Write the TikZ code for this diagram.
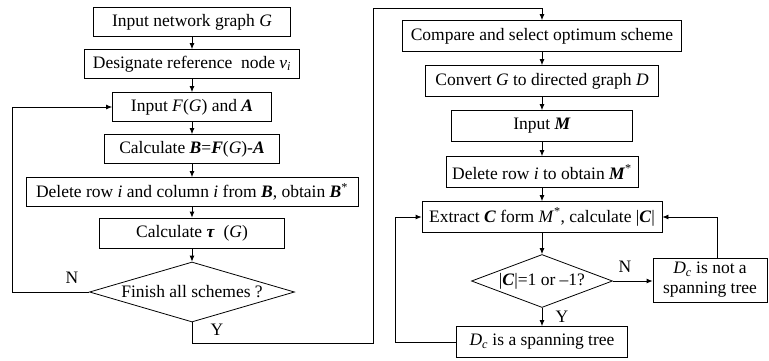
\documentclass[tikz,border=0pt]{standalone}
\usepackage{fontspec}
\setmainfont{Liberation Serif}
\usetikzlibrary{shapes.geometric,arrows.meta}

\begin{document}
\begin{tikzpicture}[x=1pt, y=-1pt,
  box/.style={draw, line width=0.8pt, minimum height=29pt, inner sep=0pt, align=center, font=\fontsize{17.5}{20}\selectfont},
  decision/.style={draw, diamond, line width=0.8pt, inner sep=0pt, aspect=#1, font=\fontsize{17.5}{20}\selectfont},
  arrow/.style={-{Latex[length=6pt,width=5pt]}, line width=0.8pt},
  lbl/.style={font=\fontsize{17.5}{20}\selectfont}
]
  \useasboundingbox (0,0) rectangle (769,360);

  \node[box, minimum width=197pt] (input) at (192,22) {Input network graph \textit{G}};
  \node[box, minimum width=215pt] (refnode) at (192,64) {Designate reference\ \ node \textit{v}\textsubscript{\textit{i}}};
  \node[box, minimum width=159pt] (inputFA) at (192,107) {Input \textit{F}(\textit{G}) and \textbf{\textit{A}}};
  \node[box, minimum width=175pt] (calcB) at (192,149) {Calculate \textbf{\textit{B}}=\textbf{\textit{F}}(\textit{G})-\textbf{\textit{A}}};
  \node[box, minimum width=332pt] (delB) at (192,192) {Delete row \textit{i} and column \textit{i} from \textbf{\textit{B}}, obtain \textbf{\textit{B}}\textsuperscript{*}};
  \node[box, minimum width=185pt, minimum height=30pt] (tau) at (192,233) {Calculate \textbf{\textit{τ}}\ \ (\textit{G})};
  \node[decision=3.4, minimum width=205pt, minimum height=60pt] (finish) at (192,292) {Finish all schemes ?};

  \node[box, minimum width=279pt, minimum height=31pt] (compare) at (542,36) {Compare and select optimum scheme};
  \node[box, minimum width=233pt, minimum height=31pt] (convert) at (542,81) {Convert \textit{G} to directed graph \textit{D}};
  \node[box, minimum width=181pt, minimum height=31pt] (inputM) at (542,126) {Input \textbf{\textit{M}}};
  \node[box, minimum width=192pt, minimum height=31pt] (delM) at (542,172) {Delete row \textit{i} to obtain \textbf{\textit{M}}\textsuperscript{*}};
  \node[box, minimum width=240pt, minimum height=31pt] (extract) at (542,217) {Extract \textbf{\textit{C}} form \textit{M}\textsuperscript{*}, calculate |\textbf{\textit{C}}|};
  \node[decision=2.66, minimum width=141pt, minimum height=53pt] (check) at (542,281) {|\textbf{\textit{C}}|=1 or –1?};
  \node[box, minimum width=114pt, minimum height=44pt] (notree) at (710,280) {\textit{D}\textsubscript{\textit{c}} is not a\\spanning tree};
  \node[box, minimum width=171pt, minimum height=31pt] (tree) at (542,342) {\textit{D}\textsubscript{\textit{c}} is a spanning tree};

  \coordinate (bend) at (373,8);
  \node[lbl] (nleft) at (72,278) {N};
  \node[lbl] (yleft) at (217,330) {Y};
  \node[lbl] (nright) at (625,267) {N};
  \node[lbl] (yright) at (562,317) {Y};

  \draw[arrow] (input) -- (refnode);
  \draw[arrow] (refnode) -- (inputFA);
  \draw[arrow] (inputFA) -- (calcB);
  \draw[arrow] (calcB) -- (delB);
  \draw[arrow] (delB) -- (tau);
  \draw[arrow] (tau) -- (finish);
  \draw[arrow] (finish.west) -- ++(-77,0) |- (inputFA.west);
  \draw[arrow] (finish.south) -- ++(0,21) -| (bend) -| (compare.north);

  \draw[arrow] (compare) -- (convert);
  \draw[arrow] (convert) -- (inputM);
  \draw[arrow] (inputM) -- (delM);
  \draw[arrow] (delM) -- (extract);
  \draw[arrow] (extract) -- (check);
  \draw[arrow] (check.east) -- (check.east -| notree.west);
  \draw[arrow] (check) -- (tree);
  \draw[arrow] (tree.west) -- ++(-61,0) |- (extract.west);
  \draw[arrow] ([xshift=7pt]notree.north) |- (extract.east);
\end{tikzpicture}
\end{document}
